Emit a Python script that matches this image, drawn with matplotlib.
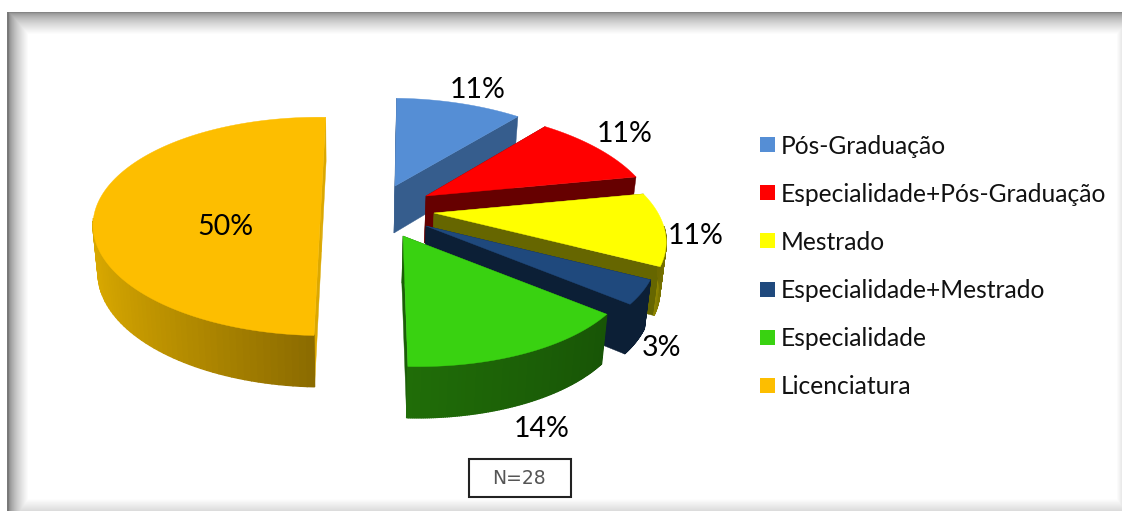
import matplotlib
matplotlib.use('Agg')
import matplotlib.pyplot as plt
from matplotlib.patches import Rectangle
import numpy as np

# N=28, respondentes por categoria
categories = ['Pós-Graduação', 'Especialidade+Pós-Graduação', 'Mestrado',
              'Especialidade+Mestrado', 'Especialidade', 'Licenciatura']
counts = [3, 3, 3, 1, 4, 14]
pct_labels = ['11%', '11%', '11%', '3%', '14%', '50%']
n_label = 'N=28'

top_colors = ['#558ED5', '#FF0000', '#FFFF00', '#1F497D', '#39D211', '#FDBE00']
wall_colors = ['#365D8D', '#660000', '#666600', '#0C1F36', '#1B5E08', '#DCA800']
# cor do rebordo, do lado esquerdo para o direito
rim_colors = [('#365D8D', '#365D8D'), ('#660000', '#660000'), ('#8F8600', '#6E6A00'),
              ('#0C1F36', '#0C1F36'), ('#206D08', '#185506'), ('#DCAB00', '#8A6A00')]

# vertice de cada fatia em pixeis (explosao), e inclinacao da perspectiva
apex = [(395, 186), (426, 196), (434, 213), (426, 226), (403, 236), (321, 205)]
lean = [30, 60, 80, 62, 60, 11]
label_pos = [(478, 90), (625, 134), (696, 236), (662, 348), (542, 429), (225, 227)]
RX, RY, K = 224, 105, 0.196
DEPTH = 47
VX = 345
START = 88

FONT = 'Lato'
W, H = 1122, 511


def project(i, theta, r=1.0, depth=False):
    u = r * np.cos(np.radians(theta))
    v = r * np.sin(np.radians(theta))
    w = 1 + K * v
    x = apex[i][0] + lean[i] * (1 / w - 1) + RX * u / w
    y = apex[i][1] - RY * v / w
    if depth:
        y = y + DEPTH / w ** 0.4
        x = VX + (x - VX) * 0.98
    return x, y


def radial_wall(ax, i, theta, color):
    pts = [project(i, theta, 0), project(i, theta), project(i, theta, 1, True), project(i, theta, 0, True)]
    ax.fill([p[0] for p in pts], [p[1] for p in pts], color=color, lw=0.3)


def background():
    yy, xx = np.mgrid[0:H, 0:W]
    img = np.ones((H, W))
    img = np.minimum(img, 0.48 + 0.52 * np.clip((xx - 8) / 20, 0, 1) ** 0.6)
    img = np.minimum(img, 0.52 + 0.48 * np.clip((yy - 12) / 22, 0, 1) ** 0.6)
    img = np.minimum(img, 1 - 0.10 * np.clip((xx - 1116) / 6, 0, 1))
    img = np.minimum(img, 1 - 0.15 * np.clip((yy - 498) / 13, 0, 1))
    img[:12, :] = 1
    img[:, :7] = 1
    img[12:, 7:9] = np.minimum(img[12:, 7:9], 0.6)
    return img


fig = plt.figure(figsize=(W / 100, H / 100), dpi=100)
ax = fig.add_axes([0, 0, 1, 1])
ax.imshow(background(), cmap='gray', vmin=0, vmax=1, extent=(0, W, H, 0), aspect='auto')

angles = START - np.cumsum([0] + counts) / sum(counts) * 360

# fatias de tras para a frente, Licenciatura fica isolada a esquerda
for i in [5, 0, 1, 2, 3, 4]:
    hi, lo = angles[i], angles[i + 1]
    radial_wall(ax, i, hi, wall_colors[i])
    radial_wall(ax, i, lo, wall_colors[i])

    th = np.linspace(lo, hi, 121)
    front = th[np.sin(np.radians(th)) < -0.12]
    if len(front) > 1:
        us = np.cos(np.radians(front))
        c0 = np.array(matplotlib.colors.to_rgb(rim_colors[i][0]))
        c1 = np.array(matplotlib.colors.to_rgb(rim_colors[i][1]))
        for a, b in zip(front[:-1], front[1:]):
            t = (np.cos(np.radians(a)) - us.min()) / max(us.max() - us.min(), 1e-6)
            pts = [project(i, a), project(i, b), project(i, b, 1, True), project(i, a, 1, True)]
            ax.fill([p[0] for p in pts], [p[1] for p in pts], color=c0 + (c1 - c0) * t, lw=1.0)

    face = [project(i, 0, 0)] + [project(i, t) for t in th]
    ax.fill([p[0] for p in face], [p[1] for p in face], color=top_colors[i], lw=0.3)

for lab, (x, y) in zip(pct_labels, label_pos):
    ax.text(x, y, lab, ha='center', va='center', fontsize=20.5, family=FONT, color='black')

# legenda
leg_y = [146, 194, 242, 291, 339, 387]
for name, col, y in zip(categories, top_colors, leg_y):
    ax.add_patch(Rectangle((760, y - 8.5), 15, 15, facecolor=col, edgecolor='none'))
    ax.text(781, y, name, ha='left', va='center', fontsize=17.7, family=FONT, color='#111111')

ax.add_patch(Rectangle((469, 459), 102, 38, facecolor='white', edgecolor='#222222', lw=1.5))
ax.text(519, 478, n_label, ha='center', va='center', fontsize=13.5, color='#555555')

ax.set_xlim(0, W)
ax.set_ylim(H, 0)
ax.axis('off')
fig.savefig('out.png', dpi=100)
